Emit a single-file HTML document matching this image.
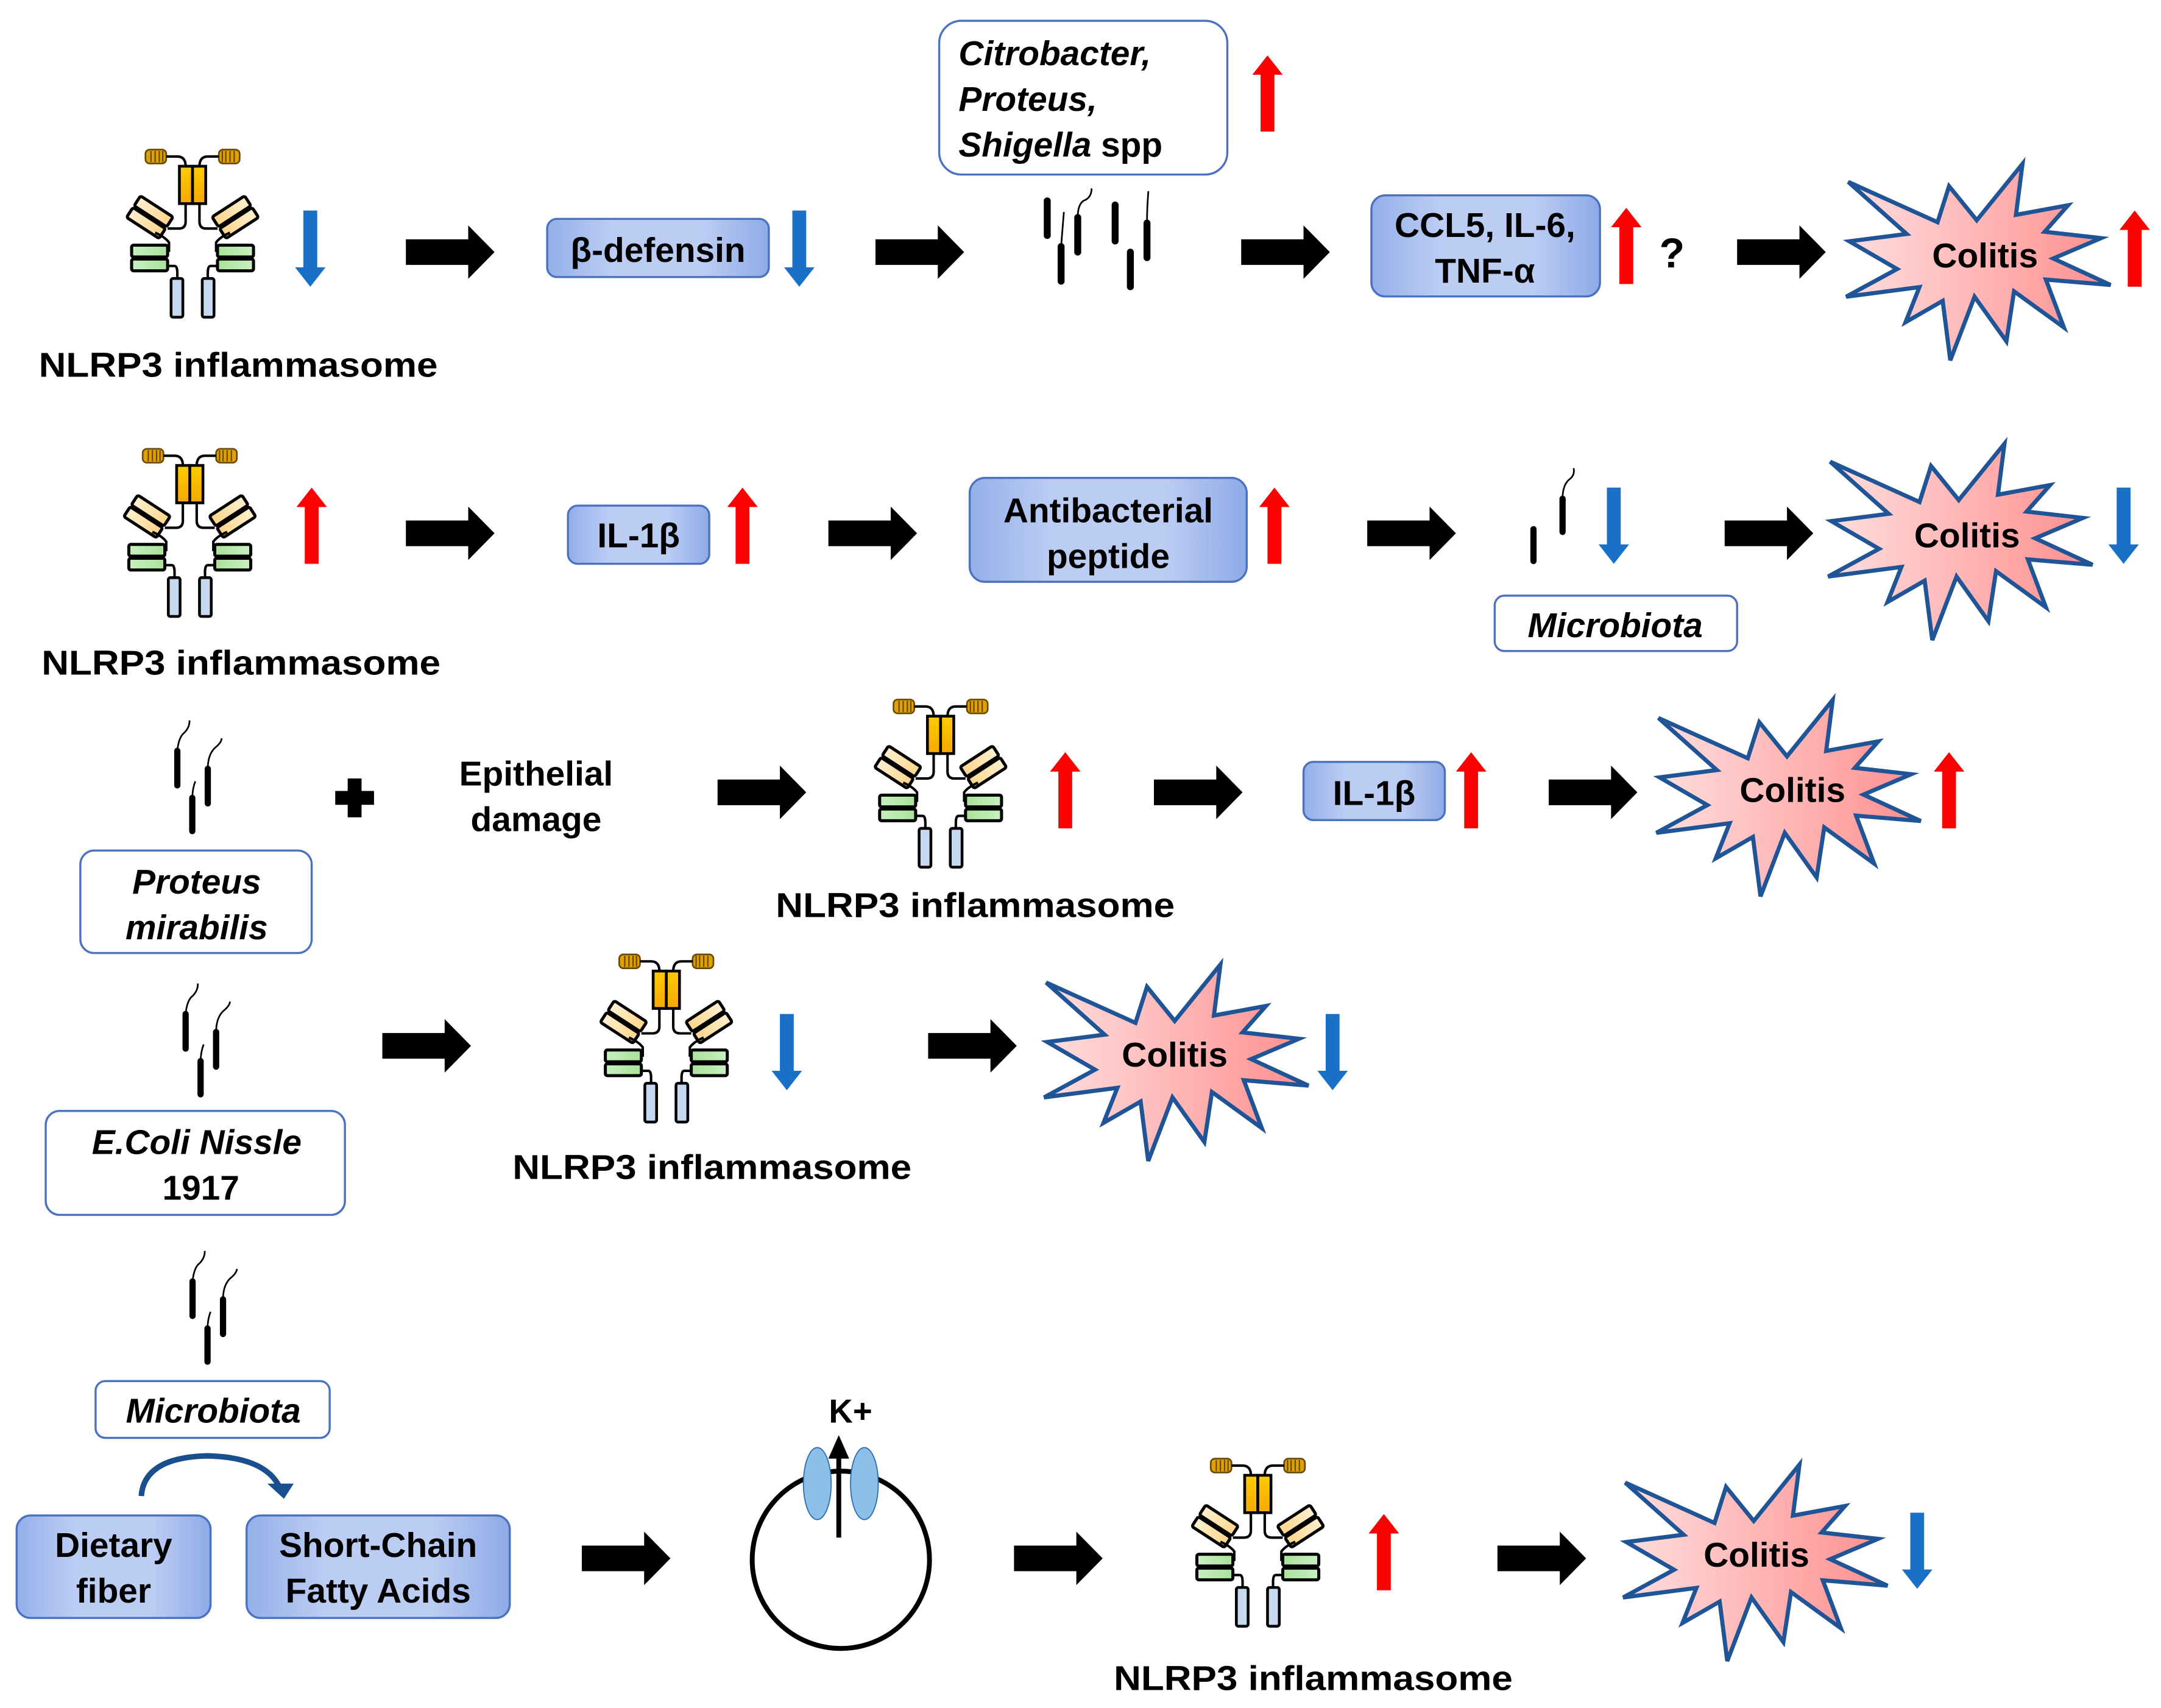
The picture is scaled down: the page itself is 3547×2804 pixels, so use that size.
<!DOCTYPE html>
<html><head><meta charset="utf-8"><style>
html,body{margin:0;padding:0;background:#fff}
svg{display:block}
text{font-family:"Liberation Sans",Arial,sans-serif;font-weight:bold;fill:#000}
</style></head><body>
<svg width="3547" height="2804" viewBox="0 0 1560 1233" preserveAspectRatio="none" xmlns="http://www.w3.org/2000/svg">
<defs>
<linearGradient id="bx" x1="0" x2="1" y1="0" y2="0">
<stop offset="0" stop-color="#93afe9"/><stop offset="0.3" stop-color="#bccdf3"/><stop offset="0.7" stop-color="#bccdf3"/><stop offset="1" stop-color="#8eaae7"/></linearGradient>
<linearGradient id="pk" x1="0" x2="1" y1="0" y2="0">
<stop offset="0" stop-color="#ffdede"/><stop offset="1" stop-color="#ff8e8e"/></linearGradient>
<linearGradient id="yl" x1="0" x2="0" y1="0" y2="1"><stop offset="0" stop-color="#ffcc00"/><stop offset="1" stop-color="#f5a800"/></linearGradient>
<linearGradient id="bg" x1="0" x2="1"><stop offset="0" stop-color="#fff0d0"/><stop offset="1" stop-color="#fcd58a"/></linearGradient>
<linearGradient id="gr" x1="0" x2="1"><stop offset="0" stop-color="#c9efc0"/><stop offset="1" stop-color="#a8e29a"/></linearGradient>
<g id="half">
 <rect x="-34" y="3" width="15" height="10" rx="3" fill="#e0a000" stroke="#6a4a00" stroke-width="1.2"/>
 <path d="M-30,4v8M-27,4v8M-24,4v8M-21.5,4v8" stroke="#6a4a00" stroke-width="1"/>
 <path d="M-19,8 H-11 Q-5,8 -5,15" fill="none" stroke="#000" stroke-width="1.8"/>
 <rect x="-9.5" y="15" width="9.5" height="27" fill="url(#yl)" stroke="#000" stroke-width="2"/>
 <path d="M-5,42 V55 Q-5,60 -10,60 H-18" fill="none" stroke="#000" stroke-width="1.8"/>
 <g transform="translate(-31,52) rotate(33)">
  <rect x="-14" y="-9.5" width="28" height="8.5" rx="1.5" fill="url(#bg)" stroke="#000" stroke-width="2.2"/>
  <rect x="-14" y="0.5" width="28" height="8.5" rx="1.5" fill="url(#bg)" stroke="#000" stroke-width="2.2"/>
 </g>
 <path d="M-27,63 Q-20,66 -17,70 V76 H-18" fill="none" stroke="#000" stroke-width="1.8"/>
 <rect x="-44" y="72" width="26" height="8.5" rx="1.5" fill="url(#gr)" stroke="#000" stroke-width="2.2"/>
 <rect x="-44" y="82" width="26" height="8.5" rx="1.5" fill="url(#gr)" stroke="#000" stroke-width="2.2"/>
 <path d="M-18,87 H-13 Q-11,87 -11,92 V96" fill="none" stroke="#000" stroke-width="1.8"/>
 <rect x="-15.5" y="96" width="8.5" height="28" rx="1.5" fill="#c7d9f0" stroke="#000" stroke-width="2"/>
</g>
<g id="inf"><use href="#half"/><use href="#half" transform="scale(-1,1)"/></g>
<polygon id="star" fill="url(#pk)" stroke="#1f5597" stroke-width="3" stroke-linejoin="miter"
 points="-92.8,-53.7 -28.3,-24.6 -20,-50.6 0,-26 33,-66.7 28.3,-29.9 65.9,-36.8 49,-17.7 89.7,-13.1 55.2,1.6 96.6,20.7 49.9,16.8 62.9,51.4 26.9,25.3 21.4,61.4 -1.6,29.2 -19.1,75.1 -24.6,32.2 -51.4,47.6 -41.4,22.3 -94.3,29.2 -57.5,9.2 -92,-10.8 -50.6,-16.1"/>
<path id="blk" d="M0,-9.25 H45 V-19.3 L64,0 L45,19.3 V9.25 H0 Z" fill="#000"/>
<path id="up" d="M-5,55 V14 H-11 L0,0 L11,14 H5 V55 Z" fill="#ff0000"/>
<path id="dn" d="M-5,0 V41 H-11 L0,55 L11,41 H5 V0 Z" fill="#1a70c6"/>
<g id="bac" fill="none" stroke="#000">
 <path d="M0,22 V47 M10.8,56 V80 M22,35 V60" stroke-width="4.5" stroke-linecap="round"/>
 <path d="M0,22 Q1,12 5,9 Q9,5 8.8,0 M10.8,56 Q11,49 13,44 M22,35 Q22,25 27,20 Q32,16 32,13" stroke-width="1.2"/>
</g>
</defs>

<!-- ROW 1 -->
<use href="#inf" x="139" y="105"/>
<text x="172" y="272" font-size="25" text-anchor="middle" textLength="288" lengthAdjust="spacingAndGlyphs">NLRP3 inflammasome</text>
<use href="#dn" x="224" y="152"/>
<use href="#blk" x="293" y="182"/>
<rect x="395" y="158" width="160" height="42" rx="7" fill="url(#bx)" stroke="#4a72c0" stroke-width="1.5"/>
<text x="475" y="189" font-size="25" text-anchor="middle">β-defensin</text>
<use href="#dn" x="577" y="152"/>
<use href="#blk" x="632" y="182"/>
<rect x="678" y="15" width="208" height="111" rx="16" fill="#fff" stroke="#4a72c0" stroke-width="1.5"/>
<text x="692" y="47" font-size="25" font-style="italic">Citrobacter,</text>
<text x="692" y="80" font-size="25" font-style="italic">Proteus,</text>
<text x="692" y="113" font-size="25"><tspan font-style="italic">Shigella</tspan> spp</text>
<use href="#up" x="915" y="40"/>
<g stroke="#000" fill="none">
 <path d="M756,145V170 M766,178V203 M778,157V182 M805,148V174 M816,182V207 M828,161V186" stroke-width="5" stroke-linecap="round"/>
 <path d="M766,178 Q767,165 768,153 M778,157 Q778,148 782,145 Q788,143 788,136 M828,161 Q828,150 829,138" stroke-width="1.2"/>
</g>
<use href="#blk" x="896" y="182"/>
<rect x="990" y="141" width="165" height="73" rx="10" fill="url(#bx)" stroke="#4a72c0" stroke-width="1.5"/>
<text x="1072" y="171" font-size="25" text-anchor="middle">CCL5, IL-6,</text>
<text x="1072" y="204" font-size="25" text-anchor="middle">TNF-α</text>
<use href="#up" x="1174" y="150"/>
<text x="1207" y="193" font-size="30" text-anchor="middle" font-weight="normal">?</text>
<use href="#blk" x="1254" y="182"/>
<use href="#star" x="1427" y="185"/>
<text x="1433" y="193" font-size="25" text-anchor="middle">Colitis</text>
<use href="#up" x="1541" y="152"/>

<!-- ROW 2 -->
<use href="#inf" x="137" y="321"/>
<text x="174" y="487" font-size="25" text-anchor="middle" textLength="288" lengthAdjust="spacingAndGlyphs">NLRP3 inflammasome</text>
<use href="#up" x="225" y="352"/>
<use href="#blk" x="293" y="385"/>
<rect x="410" y="365" width="102" height="42" rx="7" fill="url(#bx)" stroke="#4a72c0" stroke-width="1.5"/>
<text x="461" y="395" font-size="25" text-anchor="middle">IL-1β</text>
<use href="#up" x="536" y="352"/>
<use href="#blk" x="598" y="385"/>
<rect x="700" y="345" width="200" height="75" rx="11" fill="url(#bx)" stroke="#4a72c0" stroke-width="1.5"/>
<text x="800" y="377" font-size="25" text-anchor="middle">Antibacterial</text>
<text x="800" y="410" font-size="25" text-anchor="middle">peptide</text>
<use href="#up" x="920" y="352"/>
<use href="#blk" x="987" y="385"/>
<g stroke="#000" fill="none">
 <path d="M1107,382V405 M1128,360V384" stroke-width="4.5" stroke-linecap="round"/>
 <path d="M1128,360 Q1128,350 1133,346 Q1137,343 1136,338" stroke-width="1.2"/>
</g>
<use href="#dn" x="1165" y="352"/>
<rect x="1079" y="430" width="175" height="40" rx="7" fill="#fff" stroke="#4a72c0" stroke-width="1.5"/>
<text x="1166" y="460" font-size="25" text-anchor="middle" font-style="italic">Microbiota</text>
<use href="#blk" x="1245" y="385"/>
<use href="#star" x="1414" y="387"/>
<text x="1420" y="395" font-size="25" text-anchor="middle">Colitis</text>
<use href="#dn" x="1533" y="352"/>

<!-- ROW 3 -->
<use href="#bac" x="128" y="520"/>
<path d="M251,562h10v9h9v10h-9v9h-10v-9h-9v-10h9z" fill="#000"/>
<text x="387" y="567" font-size="25" text-anchor="middle">Epithelial</text>
<text x="387" y="600" font-size="25" text-anchor="middle">damage</text>
<rect x="58" y="614" width="167" height="74" rx="10" fill="#fff" stroke="#4a72c0" stroke-width="1.5"/>
<text x="142" y="645" font-size="25" text-anchor="middle" font-style="italic">Proteus</text>
<text x="142" y="678" font-size="25" text-anchor="middle" font-style="italic">mirabilis</text>
<use href="#blk" x="518" y="572"/>
<use href="#inf" x="679" y="502"/>
<text x="704" y="662" font-size="25" text-anchor="middle" textLength="288" lengthAdjust="spacingAndGlyphs">NLRP3 inflammasome</text>
<use href="#up" x="769" y="543"/>
<use href="#blk" x="833" y="572"/>
<rect x="941" y="550" width="102" height="42" rx="7" fill="url(#bx)" stroke="#4a72c0" stroke-width="1.5"/>
<text x="992" y="581" font-size="25" text-anchor="middle">IL-1β</text>
<use href="#up" x="1062" y="543"/>
<use href="#blk" x="1118" y="572"/>
<use href="#star" x="1290" y="572"/>
<text x="1294" y="579" font-size="25" text-anchor="middle">Colitis</text>
<use href="#up" x="1407" y="543"/>

<!-- ROW 4 -->
<use href="#bac" x="134" y="710"/>
<rect x="33" y="802" width="216" height="75" rx="10" fill="#fff" stroke="#4a72c0" stroke-width="1.5"/>
<text x="142" y="833" font-size="25" text-anchor="middle" font-style="italic">E.Coli Nissle</text>
<text x="145" y="866" font-size="25" text-anchor="middle">1917</text>
<use href="#blk" x="276" y="755"/>
<use href="#inf" x="481" y="686"/>
<text x="514" y="851" font-size="25" text-anchor="middle" textLength="288" lengthAdjust="spacingAndGlyphs">NLRP3 inflammasome</text>
<use href="#dn" x="568" y="732"/>
<use href="#blk" x="670" y="755"/>
<use href="#star" x="848" y="763"/>
<text x="848" y="770" font-size="25" text-anchor="middle">Colitis</text>
<use href="#dn" x="962" y="732"/>

<!-- ROW 5 -->
<use href="#bac" x="139" y="903"/>
<rect x="69" y="997" width="169" height="41" rx="7" fill="#fff" stroke="#4a72c0" stroke-width="1.5"/>
<text x="154" y="1027" font-size="25" text-anchor="middle" font-style="italic">Microbiota</text>
<path d="M102,1080 Q104,1052 150,1051 Q190,1052 201,1072" fill="none" stroke="#1a4f8f" stroke-width="4"/>
<path d="M193,1071 L212,1071 L205,1082 Z" fill="#1a4f8f"/>
<rect x="12" y="1094" width="140" height="74" rx="10" fill="url(#bx)" stroke="#4a72c0" stroke-width="1.5"/>
<text x="82" y="1124" font-size="25" text-anchor="middle">Dietary</text>
<text x="82" y="1157" font-size="25" text-anchor="middle">fiber</text>
<rect x="178" y="1094" width="190" height="74" rx="10" fill="url(#bx)" stroke="#4a72c0" stroke-width="1.5"/>
<text x="273" y="1124" font-size="25" text-anchor="middle">Short-Chain</text>
<text x="273" y="1157" font-size="25" text-anchor="middle">Fatty Acids</text>
<use href="#blk" x="420" y="1125"/>
<circle cx="607" cy="1126" r="64" fill="none" stroke="#000" stroke-width="3.5"/>
<ellipse cx="590" cy="1071" rx="10" ry="26" fill="#8cc0e6" stroke="#2e6db4" stroke-width="0.8"/>
<ellipse cx="624" cy="1071" rx="10" ry="26" fill="#8cc0e6" stroke="#2e6db4" stroke-width="0.8"/>
<path d="M605.5,1110V1051" stroke="#000" stroke-width="3.5"/>
<path d="M598,1053 L605.5,1036 L613,1053 Z" fill="#000"/>
<text x="614" y="1027" font-size="24" text-anchor="middle">K+</text>
<use href="#blk" x="732" y="1125"/>
<use href="#inf" x="908" y="1050"/>
<text x="948" y="1220" font-size="25" text-anchor="middle" textLength="288" lengthAdjust="spacingAndGlyphs">NLRP3 inflammasome</text>
<use href="#up" x="999" y="1093"/>
<use href="#blk" x="1081" y="1125"/>
<use href="#star" x="1266" y="1124"/>
<text x="1268" y="1131" font-size="25" text-anchor="middle">Colitis</text>
<use href="#dn" x="1384" y="1092"/>
</svg>
</body></html>
